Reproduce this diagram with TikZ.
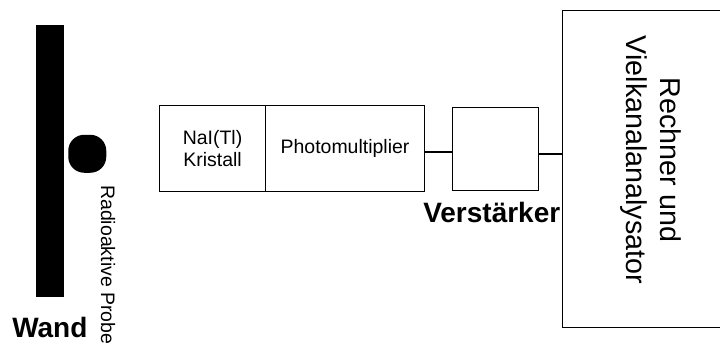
\documentclass[tikz,border=0pt]{standalone}
\usepackage{fontspec}
\setmainfont{Liberation Sans}
\begin{document}
\begin{tikzpicture}[x=0.75pt,y=-0.75pt,
  box/.style={draw,line width=0.8pt,rectangle,inner sep=0pt,anchor=north west},
  conn/.style={line width=0.8pt},
  lbl/.style={font=\fontsize{14.6}{15}\selectfont,inner sep=0pt},
  bigl/.style={font=\fontsize{21}{25}\selectfont\bfseries,inner sep=0pt}]
\useasboundingbox (0,0) rectangle (720,347);
\clip (0,0) rectangle (720,347);
% wall and source
\node[fill=black,inner sep=0pt,minimum width=21pt,minimum height=204pt,anchor=north west] (wall) at (36,25) {};
\node[fill=black,inner sep=0pt,minimum size=28.5pt,rounded corners=12pt,anchor=north west] (dot) at (68,134.5) {};
\node[lbl,rotate=-90,anchor=west] (probe) at (108,185) {Radioaktive Probe};
\node[bigl,anchor=base west] (wand) at (12,337) {Wand};
% detector
\node[box,minimum width=79.5pt,minimum height=64.5pt,lbl,align=center] (kristall) at (159,105) {NaI(Tl)\\[1pt]Kristall};
\node[box,minimum width=119.25pt,minimum height=64.5pt,lbl] (photo) at (265,105) {Photomultiplier};
\node[box,minimum width=64.5pt,minimum height=62.25pt] (amp) at (452,107) {};
\node[bigl,anchor=base west] (verst) at (423,222) {Verst\"arker};
\node[box,minimum width=135pt,minimum height=237.75pt] (rech) at (562,10) {};
\node[font=\fontsize{21.5}{25.5}\selectfont,rotate=-90,align=center,inner sep=0pt] (rechtxt) at (651,160) {Rechner und\\Vielkanalanalysator};
% connectors
\draw[conn] (photo.east |- 0,152) -- (amp.west |- 0,152);
\draw[conn] (amp.east |- 0,154) -- (rech.west |- 0,154);
\end{tikzpicture}
\end{document}
